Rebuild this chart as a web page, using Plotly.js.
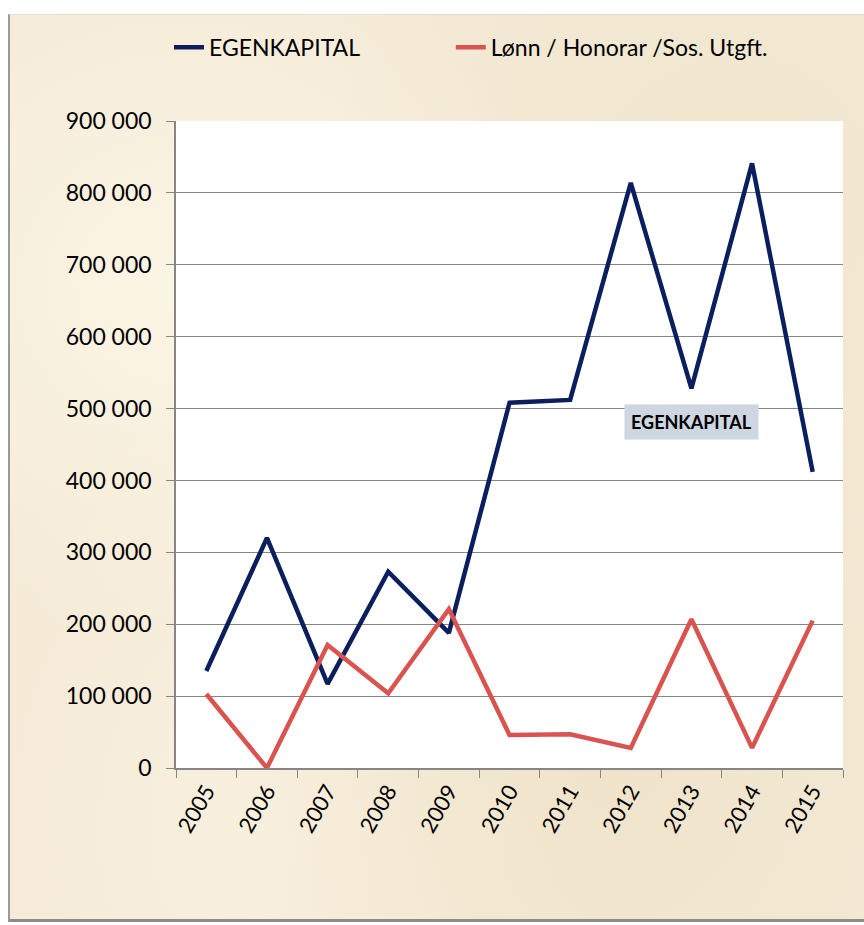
<!DOCTYPE html>
<html>
<head>
<meta charset="utf-8">
<script src="https://cdn.plot.ly/plotly-3.0.1.min.js"></script>
<style>
html,body{margin:0;padding:0;width:864px;height:925px;overflow:hidden;background:#ffffff;}
#frame{position:absolute;left:8px;top:14px;width:856px;height:908px;
 background:
  radial-gradient(ellipse at 20% 30%, rgba(255,250,235,0.7) 0%, rgba(255,250,235,0) 40%),
  radial-gradient(ellipse at 70% 80%, rgba(235,220,190,0.5) 0%, rgba(235,220,190,0) 45%),
  radial-gradient(ellipse at 85% 20%, rgba(238,224,196,0.5) 0%, rgba(238,224,196,0) 40%),
  radial-gradient(ellipse at 30% 90%, rgba(250,242,225,0.7) 0%, rgba(250,242,225,0) 40%),
  #f4ead6;
 border-left:2px solid #9a9a9a;border-bottom:3px solid #8c8c8c;border-top:1px solid #e6dcc8;box-sizing:border-box;}
#chart{position:absolute;left:0;top:0;width:864px;height:925px;}
</style>
</head>
<body>
<div id="frame"></div>
<div id="chart"></div>
<script>
const years = ["2005","2006","2007","2008","2009","2010","2011","2012","2013","2014","2015"];
const egenkapital = [135000,320000,117000,273000,188000,508000,512000,814000,528000,841000,412000];
const lonn = [103000,0,171000,104000,221000,46000,47000,28000,207000,28000,205000];
const yTicks = [0,100000,200000,300000,400000,500000,600000,700000,800000,900000];
const yTickText = ["0","100 000","200 000","300 000","400 000","500 000","600 000","700 000","800 000","900 000"];
const annotationText = "EGENKAPITAL";

const font = "Lato, 'Open Sans', 'Liberation Sans', sans-serif";

const traces = [
 {x: years, y: egenkapital, type: "scatter", mode: "lines", name: "EGENKAPITAL",
  line: {color: "#0b1f5e", width: 4.5}, legend: "legend"},
 {x: years, y: lonn, type: "scatter", mode: "lines", name: "Lønn / Honorar /Sos. Utgft.",
  line: {color: "#d9534f", width: 4.5}, legend: "legend2"}
];

const legendBase = {orientation: "h", xanchor: "left", y: 1.114, yanchor: "middle",
  font: {family: font, size: 23, color: "#000"}, bgcolor: "rgba(0,0,0,0)"};

const layout = {
 width: 864, height: 925,
 paper_bgcolor: "rgba(0,0,0,0)",
 plot_bgcolor: "#ffffff",
 margin: {l: 176, r: 21, t: 121, b: 157},
 font: {family: font, size: 20, color: "#000000"},
 showlegend: true,
 legend: Object.assign({}, legendBase, {x: -0.0105}),
 legend2: Object.assign({}, legendBase, {x: 0.412}),
 xaxis: {type: "category", tickson: "boundaries", ticks: "outside", ticklen: 8,
  tickcolor: "#868686", showline: true, linecolor: "#868686", linewidth: 1.5,
  showgrid: false, tickangle: -60, tickfont: {family: font, size: 22, color: "#000"},
  zeroline: false, range: [-0.5, 10.5]},
 yaxis: {range: [0, 900000], tickvals: yTicks, ticktext: yTickText,
  ticks: "outside", ticklen: 8, tickcolor: "#868686", ticklabelstandoff: 10,
  showline: true, linecolor: "#868686", linewidth: 1.5,
  showgrid: true, gridcolor: "#868686", gridwidth: 1.2, zeroline: false,
  tickfont: {family: font, size: 23, color: "#000"}},
 annotations: [{x: 8, y: 481000, xref: "x", yref: "y", text: "<b>" + annotationText + "</b>",
  showarrow: false, font: {family: font, size: 18, color: "#000"},
  bgcolor: "#cdd6e1", borderpad: 6}]
};

Plotly.newPlot("chart", traces, layout, {displayModeBar: false});
</script>
</body>
</html>
